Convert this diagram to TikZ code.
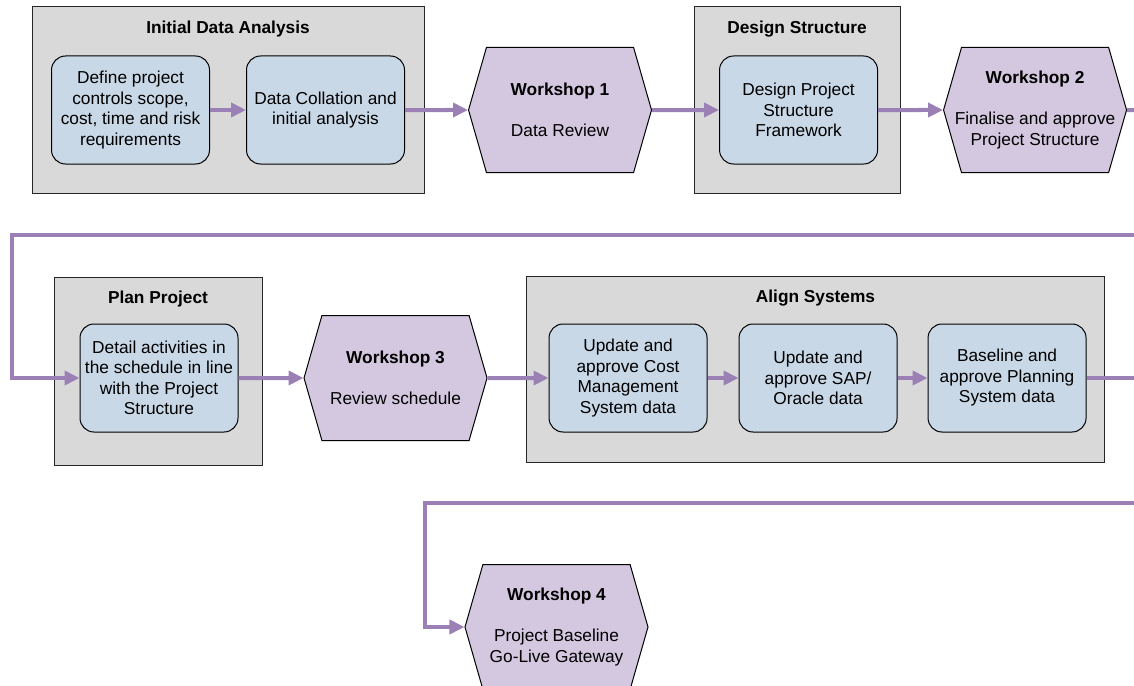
\documentclass[tikz,border=0pt]{standalone}
\usepackage{fontspec}
\setmainfont{Liberation Sans}
\usetikzlibrary{shapes.symbols, arrows.meta, positioning}
\definecolor{groupbg}{RGB}{217, 217, 217}
\definecolor{taskbg}{RGB}{201, 216, 231}
\definecolor{workbg}{RGB}{211, 200, 223}
\definecolor{flow}{RGB}{155, 128, 182}
\newcommand{\boxfont}{\fontsize{17.3}{20.5}\selectfont}
\tikzstyle{group} = [rectangle, draw=black!85, fill=groupbg, line width=1pt, inner sep=0pt]
\tikzstyle{grouptitle} = [inner sep=0pt, font=\boxfont\bfseries]
\tikzstyle{task} = [rectangle, rounded corners=14pt, minimum width=158pt, minimum height=108pt, inner sep=0pt, align=center, draw=black, fill=taskbg, line width=1pt, font=\boxfont]
\tikzstyle{workshop} = [signal, signal to=east and west, signal from=nowhere, signal pointer angle=148, minimum width=183pt, minimum height=125pt, inner xsep=-14pt, inner ysep=0pt, align=center, draw=black, fill=workbg, line width=1pt, font=\boxfont]
\tikzstyle{arrow} = [line width=4pt, -{Triangle[length=15pt, width=14pt]}, color=flow]
\tikzstyle{line} = [line width=4pt, color=flow]

\begin{document}
\begin{tikzpicture}[x=1pt, y=-1pt]
    \useasboundingbox (0,0) rectangle (1134,685);

    % Groups
    \node (initgrp) [group, minimum width=392pt, minimum height=186pt] at (228,100) {};
    \node (designgrp) [group, minimum width=206pt, minimum height=186pt] at (797,100) {};
    \node (plangrp) [group, minimum width=208pt, minimum height=188pt] at (158,371) {};
    \node (aligngrp) [group, minimum width=578pt, minimum height=186pt] at (815.5,369) {};
    \node [grouptitle, below=14pt of initgrp.north] {Initial Data Analysis};
    \node [grouptitle, below=14pt of designgrp.north] {Design Structure};
    \node [grouptitle, below=14pt of plangrp.north] {Plan Project};
    \node [grouptitle, below=14pt of aligngrp.north] {Align Systems};

    % Row 1
    \node (define) [task] at (130.5,110) {Define project\\controls scope,\\cost, time and risk\\requirements};
    \node (collate) [task, right=36pt of define] {Data Collation and\\initial analysis};
    \node (ws1) [workshop, right=63pt of collate] {\textbf{Workshop 1}\\[21pt]Data Review};
    \node (frame) [task, right=67pt of ws1] {Design Project\\Structure\\Framework};
    \node (ws2) [workshop, right=65pt of frame] {\textbf{Workshop 2}\\[21pt]Finalise and approve\\Project Structure};

    % Row 2
    \node (detail) [task] at (159,378) {Detail activities in\\the schedule in line\\with the Project\\Structure};
    \node (ws3) [workshop, right=65pt of detail] {\textbf{Workshop 3}\\[21pt]Review schedule};
    \node (cost) [task, right=61pt of ws3] {Update and\\approve Cost\\Management\\System data};
    \node (sap) [task, right=31pt of cost] {Update and\\approve SAP/\\Oracle data};
    \node (plansys) [task, right=30pt of sap] {Baseline and\\approve Planning\\System data};

    % Row 3
    \node (ws4) [workshop] at (556.5,627) {\textbf{Workshop 4}\\[21pt]Project Baseline\\Go-Live Gateway};

    \coordinate (exit1) at (1134,110);
    \coordinate (enter2) at (1134,235);
    \coordinate (turn1) at (12,235);
    \coordinate (exit2) at (1134,378);
    \coordinate (enter3) at (1134,503);
    \coordinate (turn2) at (425,503);

    % Arrows
    \draw [arrow] (define) -- (collate);
    \draw [arrow] (collate) -- (ws1);
    \draw [arrow] (ws1) -- (frame);
    \draw [arrow] (frame) -- (ws2);
    \draw [line] (ws2) -- (exit1);
    \draw [arrow] (enter2) -- (turn1) |- (detail);
    \draw [arrow] (detail) -- (ws3);
    \draw [arrow] (ws3) -- (cost);
    \draw [arrow] (cost) -- (sap);
    \draw [arrow] (sap) -- (plansys);
    \draw [line] (plansys) -- (exit2);
    \draw [arrow] (enter3) -- (turn2) |- (ws4);
\end{tikzpicture}
\end{document}
